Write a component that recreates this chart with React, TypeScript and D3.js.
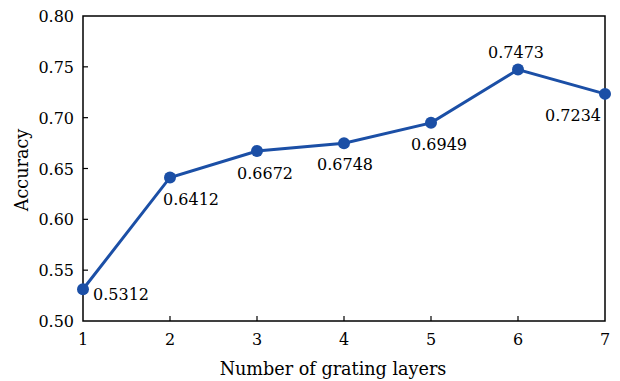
import React from "react";
import * as d3 from "d3";

const layers = [1, 2, 3, 4, 5, 6, 7];
const accuracy = [0.5312, 0.6412, 0.6672, 0.6748, 0.6949, 0.7473, 0.7234];
const yTicks = [0.5, 0.55, 0.6, 0.65, 0.7, 0.75, 0.8];
// label offsets relative to each point (dx, dy to baseline)
const labelDx = [10, -7, -20, -27, -20, -30, -60];
const labelDy = [11, 28, 28, 27, 27, -12, 27];

const W = 620;
const H = 381;
const margin = { left: 83, right: 15, top: 16, bottom: 60 };
const FONT = "'DejaVu Serif', serif";
const BLUE = "#1b4fa6";

export default function App() {
  const x = d3.scaleLinear().domain([1, 7]).range([margin.left, W - margin.right]);
  const y = d3.scaleLinear().domain([0.5, 0.8]).range([H - margin.bottom, margin.top]);
  const line = d3
    .line<number>()
    .x((_, i) => x(layers[i]))
    .y((d) => y(d));
  const x0 = x.range()[0];
  const x1 = x.range()[1];
  const y0 = y.range()[0];
  const y1 = y.range()[1];
  return (
    <svg
      width={W}
      height={H}
      style={{ position: "absolute", left: 0, top: 0, background: "#fff" }}
      fontFamily={FONT}
    >
      <rect x={x0} y={y1} width={x1 - x0} height={y0 - y1} fill="none" stroke="#000" strokeWidth={1.5} />
      {layers.map((l) => (
        <g key={l}>
          {l > 1 && l < 7 && <line x1={x(l)} x2={x(l)} y1={y0} y2={y0 - 5} stroke="#000" strokeWidth={1.2} />}
          <text x={x(l)} y={y0 + 24} textAnchor="middle" fontSize={16} fill="#000">
            {l}
          </text>
        </g>
      ))}
      {yTicks.map((t) => (
        <g key={t}>
          {t > 0.5 && t < 0.8 && <line x1={x0} x2={x0 + 5} y1={y(t)} y2={y(t)} stroke="#000" strokeWidth={1.2} />}
          <text x={x0 - 9} y={y(t) + 6} textAnchor="end" fontSize={16} fill="#000">
            {t.toFixed(2)}
          </text>
        </g>
      ))}
      <path d={line(accuracy) || ""} fill="none" stroke={BLUE} strokeWidth={3} />
      {accuracy.map((v, i) => (
        <g key={i}>
          <circle cx={x(layers[i])} cy={y(v)} r={6} fill={BLUE} />
          <text x={x(layers[i]) + labelDx[i]} y={y(v) + labelDy[i]} fontSize={16} fill="#000">
            {v.toFixed(4)}
          </text>
        </g>
      ))}
      <text x={(x0 + x1) / 2 - 11} y={H - 6} textAnchor="middle" fontSize={17.6} fill="#000">
        Number of grating layers
      </text>
      <text
        transform={`translate(28,${170}) rotate(-90)`}
        textAnchor="middle"
        fontSize={17.6}
        fill="#000"
      >
        Accuracy
      </text>
    </svg>
  );
}
